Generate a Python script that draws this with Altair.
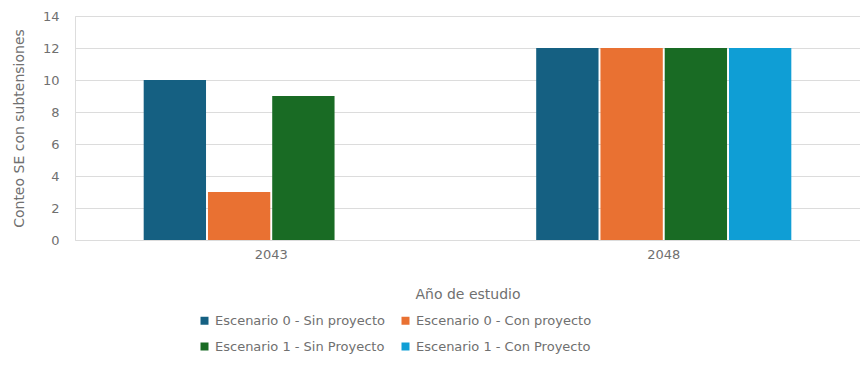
import altair as alt
import pandas as pd

years = ["2043", "2048"]
series = [
    "Escenario 0 - Sin proyecto",
    "Escenario 0 - Con proyecto",
    "Escenario 1 - Sin Proyecto",
    "Escenario 1 - Con Proyecto",
]
values_2043 = [10, 3, 9, 0]
values_2048 = [12, 12, 12, 12]
colors = ["#156082", "#E97132", "#196B24", "#0F9ED5"]

rows = []
for s, v in zip(series, values_2043):
    rows.append({"Año": years[0], "Serie": s, "Valor": v})
for s, v in zip(series, values_2048):
    rows.append({"Año": years[1], "Serie": s, "Valor": v})
df = pd.DataFrame(rows)

FONT = "DejaVu Sans"
GRAY = "#707070"

chart = alt.Chart(df).mark_bar().encode(
    x=alt.X(
        "Año:N",
        title="Año de estudio",
        sort=years,
        scale=alt.Scale(paddingInner=0.35, paddingOuter=0.175),
        axis=alt.Axis(
            labelAngle=0, domain=False, ticks=False, labelPadding=8,
            labelFontSize=13, labelColor=GRAY, titleFontSize=14,
            titleColor=GRAY, titleFontWeight="normal", titlePadding=26,
            labelFont=FONT, titleFont=FONT,
        ),
    ),
    xOffset=alt.XOffset("Serie:N", sort=series, scale=alt.Scale(paddingInner=0.03)),
    y=alt.Y(
        "Valor:Q",
        title="Conteo SE con subtensiones",
        scale=alt.Scale(domain=[0, 14], nice=False),
        axis=alt.Axis(
            values=[0, 2, 4, 6, 8, 10, 12, 14], domain=False, ticks=False,
            labelPadding=16, labelFontSize=13, labelColor=GRAY,
            titleFontSize=14, titleColor=GRAY, titleFontWeight="normal",
            gridColor="#dcdcdc", gridWidth=1.2, titlePadding=16,
            labelFont=FONT, titleFont=FONT,
        ),
    ),
    color=alt.Color(
        "Serie:N",
        sort=series,
        scale=alt.Scale(domain=series, range=colors),
        legend=alt.Legend(
            title=None, orient="none", legendX=123, legendY=298, columns=2,
            direction="horizontal",
            symbolType="square", symbolSize=64, symbolStrokeWidth=0,
            labelFontSize=13, labelColor=GRAY, labelFont=FONT, labelLimit=400,
            rowPadding=12, columnPadding=14, symbolOpacity=1,
        ),
    ),
).properties(
    width=785,
    height=224,
    autosize=alt.AutoSizeParams(type="none"),
    padding={"left": 75, "top": 16, "right": 0, "bottom": 148},
).configure_view(stroke=None).configure(background="white")

chart.save("out.html", embed_options={"renderer": "svg", "actions": False})
